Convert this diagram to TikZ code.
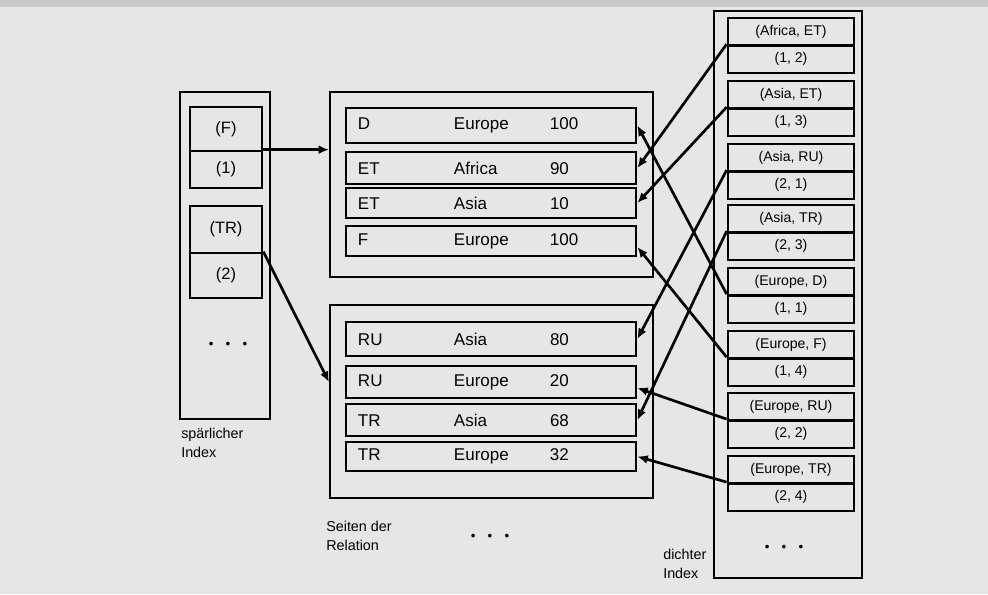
\documentclass[tikz,border=0pt]{standalone}
\usepackage{fontspec}
\setmainfont{Liberation Sans}
\usetikzlibrary{arrows.meta}
\definecolor{hgrau}{HTML}{E6E6E6}
\definecolor{streifen}{HTML}{C9C9C9}

\begin{document}
\begin{tikzpicture}[x=0.025cm,y=-0.025cm]
\tikzset{rahmen/.style={draw, line width=1.4pt, inner sep=0pt},
  zeile/.style={draw, line width=1.9pt, minimum width=7.25cm, text width=6.65cm, inner xsep=0.3cm, inner ysep=0pt, align=left, font=\fontsize{12.1}{14}\selectfont},
  dfeld/.style={draw, line width=1.9pt, minimum width=3.15cm, minimum height=0.69cm, inner sep=0pt, font=\fontsize{10}{12}\selectfont},
  sfeld/.style={draw, line width=1.9pt, minimum width=1.8cm, inner sep=0pt, font=\fontsize{11.7}{14}\selectfont},
  zeiger/.style={line width=1.9pt, -{Latex[length=2.6mm,width=2.2mm]}},
  beschr/.style={align=left, inner sep=0pt, font=\fontsize{10.2}{13.6}\selectfont},
  pkte/.style={inner sep=0pt, font=\fontsize{9.5}{10}\selectfont}}
\useasboundingbox (0,0) rectangle (988,594);
\fill[hgrau] (0,0) rectangle (988,594);
\fill[streifen] (0,0) rectangle (988,7);
% spaerlicher Index
\node[rahmen, minimum width=2.25cm, minimum height=8.175cm] (sparse) at (225,255.5) {};
\node[sfeld, minimum height=1.1cm] (sk1) at (226,129) {(F)};
\node[sfeld, minimum height=0.925cm] (sp1) at (226,169.5) {(1)};
\node[sfeld, minimum height=1.175cm] (sk2) at (226,229.5) {(TR)};
\node[sfeld, minimum height=1.125cm] (sp2) at (226,275.5) {(2)};
\node[pkte] (spkte) at (228,345) {\textbullet\hspace{8.7pt}\textbullet\hspace{8.7pt}\textbullet};
\node[beschr, anchor=north west] (lsparse) at (181,428) {spärlicher\\Index};
% Seiten der Relation
\node[rahmen, minimum width=8.075cm, minimum height=4.625cm] (page1) at (491.5,184.5) {};
\node[rahmen, minimum width=8.075cm, minimum height=4.825cm] (page2) at (491.5,401.5) {};
\node[zeile, minimum height=0.875cm] (r1) at (491,125.5) {\makebox[2.4cm][l]{D}\makebox[2.4cm][l]{Europe}100};
\node[zeile, minimum height=0.8cm] (r2) at (491,168) {\makebox[2.4cm][l]{ET}\makebox[2.4cm][l]{Africa}90};
\node[zeile, minimum height=0.75cm] (r3) at (491,203) {\makebox[2.4cm][l]{ET}\makebox[2.4cm][l]{Asia}10};
\node[zeile, minimum height=0.75cm] (r4) at (491,241) {\makebox[2.4cm][l]{F}\makebox[2.4cm][l]{Europe}100};
\node[zeile, minimum height=0.85cm] (r5) at (491,339) {\makebox[2.4cm][l]{RU}\makebox[2.4cm][l]{Asia}80};
\node[zeile, minimum height=0.8cm] (r6) at (491,382) {\makebox[2.4cm][l]{RU}\makebox[2.4cm][l]{Europe}20};
\node[zeile, minimum height=0.8cm] (r7) at (491,420) {\makebox[2.4cm][l]{TR}\makebox[2.4cm][l]{Asia}68};
\node[zeile, minimum height=0.725cm] (r8) at (491,456.5) {\makebox[2.4cm][l]{TR}\makebox[2.4cm][l]{Europe}32};
\node[pkte] (rpkte) at (490,537) {\textbullet\hspace{8.7pt}\textbullet\hspace{8.7pt}\textbullet};
\node[beschr, anchor=north west] (lpages) at (326,521) {Seiten der\\Relation};
% dichter Index
\node[rahmen, minimum width=3.7cm, minimum height=14.175cm] (dense) at (788,294.5) {};
\node[dfeld] (dk1) at (791,31.75) {(Africa, ET)};
\node[dfeld] (dp1) at (791,59.25) {(1, 2)};
\node[dfeld] (dk2) at (791,94.75) {(Asia, ET)};
\node[dfeld] (dp2) at (791,122.25) {(1, 3)};
\node[dfeld] (dk3) at (791,157.75) {(Asia, RU)};
\node[dfeld] (dp3) at (791,185.25) {(2, 1)};
\node[dfeld] (dk4) at (791,218.75) {(Asia, TR)};
\node[dfeld] (dp4) at (791,246.25) {(2, 3)};
\node[dfeld] (dk5) at (791,281.75) {(Europe, D)};
\node[dfeld] (dp5) at (791,309.25) {(1, 1)};
\node[dfeld] (dk6) at (791,344.75) {(Europe, F)};
\node[dfeld] (dp6) at (791,372.25) {(1, 4)};
\node[dfeld] (dk7) at (791,406.75) {(Europe, RU)};
\node[dfeld] (dp7) at (791,434.25) {(2, 2)};
\node[dfeld] (dk8) at (791,469.75) {(Europe, TR)};
\node[dfeld] (dp8) at (791,497.25) {(2, 4)};
\node[pkte] (dpkte) at (784,548) {\textbullet\hspace{8.7pt}\textbullet\hspace{8.7pt}\textbullet};
\node[beschr, anchor=north west] (ldense) at (663,549) {dichter\\Index};
% Zeiger
\draw[zeiger] (sp1.north east) -- (sp1.north east -| page1.west);
\draw[zeiger] (sp2.north east) -- (r6.west -| page2.west);
\draw[zeiger] (dp1.north west) -- (r2.east);
\draw[zeiger] (dp2.north west) -- (r3.east);
\draw[zeiger] (dp3.north west) -- (r5.east);
\draw[zeiger] (dp4.north west) -- (r7.east);
\draw[zeiger] (dp5.north west) -- (r1.east);
\draw[zeiger] (dp6.north west) -- ([yshift=-0.15cm]r4.east);
\draw[zeiger] (dp7.north west) -- ([yshift=-0.15cm]r6.east);
\draw[zeiger] (dp8.north west) -- (r8.east);
\end{tikzpicture}
\end{document}
